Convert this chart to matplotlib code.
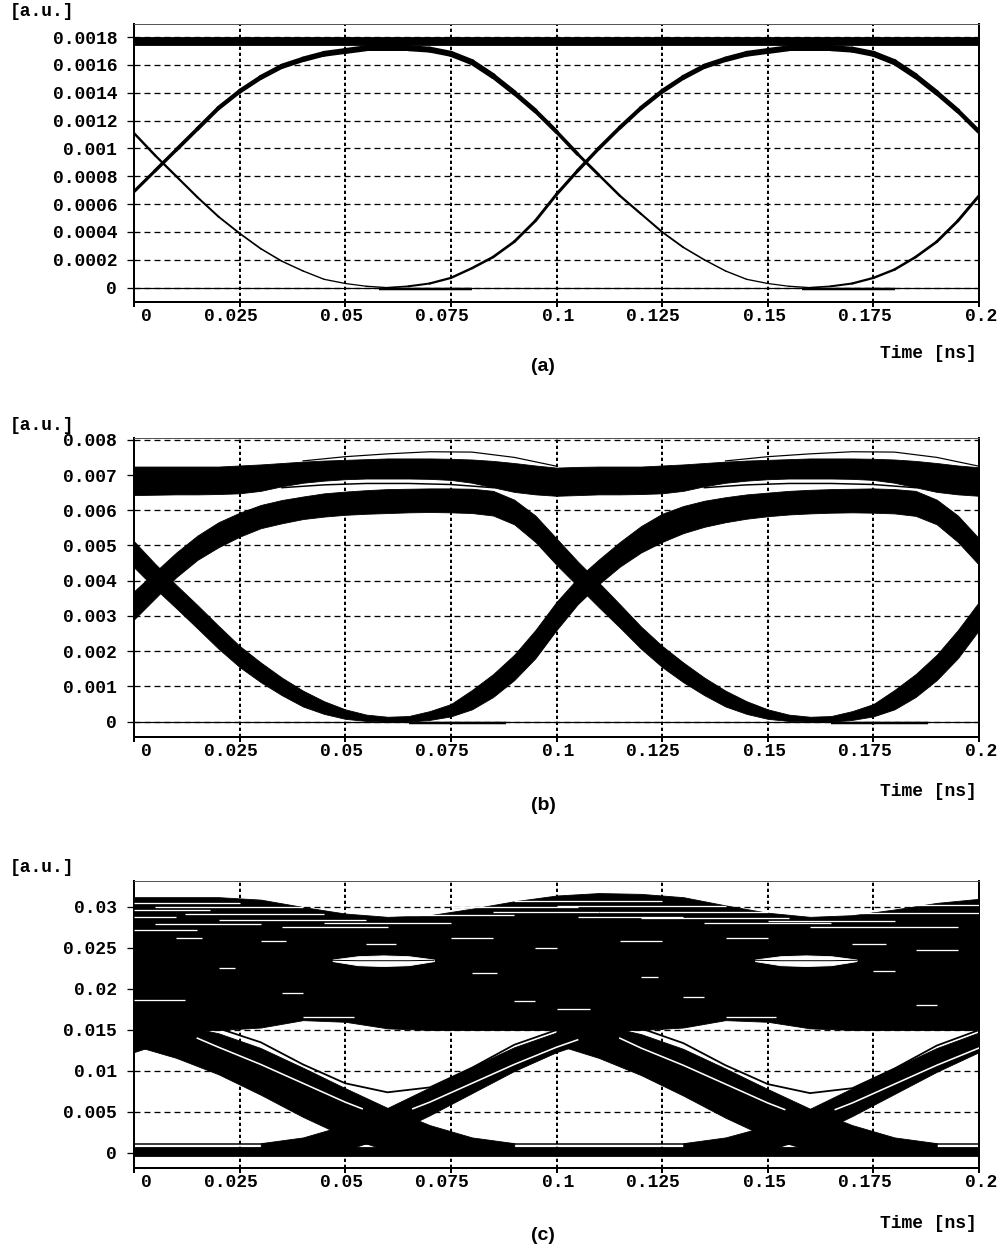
import numpy as np
import matplotlib
matplotlib.use("Agg")
import matplotlib.pyplot as plt
from matplotlib.collections import LineCollection

plt.rcParams['lines.scale_dashes'] = False

# ---------------------------------------------------------------- data
# sample instants (ns), 5 ps apart
t = [0.000, 0.005, 0.010, 0.015, 0.020, 0.025, 0.030, 0.035, 0.040, 0.045,
     0.050, 0.055, 0.060, 0.065, 0.070, 0.075, 0.080, 0.085, 0.090, 0.095,
     0.100, 0.105, 0.110, 0.115, 0.120, 0.125, 0.130, 0.135, 0.140, 0.145,
     0.150, 0.155, 0.160, 0.165, 0.170, 0.175, 0.180, 0.185, 0.190, 0.195, 0.200]
# 10 ps instants for panel (c)
tc = [0.00, 0.01, 0.02, 0.03, 0.04, 0.05, 0.06, 0.07, 0.08, 0.09, 0.10,
      0.11, 0.12, 0.13, 0.14, 0.15, 0.16, 0.17, 0.18, 0.19, 0.20]

x_ticks = [0, 0.025, 0.05, 0.075, 0.1, 0.125, 0.15, 0.175, 0.2]
x_labels = ['0', '0.025', '0.05', '0.075', '0.1', '0.125', '0.15', '0.175', '0.2']

# (a) two transition traces
a_trace1 = [0.00069, 0.00084, 0.00099, 0.00114, 0.00129, 0.00141, 0.00151, 0.00159, 0.00164, 0.00168,
            0.00170, 0.00172, 0.00172, 0.00172, 0.00171, 0.00168, 0.00162, 0.00152, 0.00140, 0.00127,
            0.00112, 0.00096, 0.00081, 0.00066, 0.00053, 0.00040, 0.00029, 0.00020, 0.00012, 0.00006,
            0.00003, 0.00001, 0.00000, 0.00001, 0.00003, 0.00007, 0.00013, 0.00022, 0.00033, 0.00048, 0.00066]
a_trace2 = [0.00111, 0.00095, 0.00080, 0.00065, 0.00051, 0.00039, 0.00028, 0.00019, 0.00012, 0.00006,
            0.00003, 0.00001, 0.00000, 0.00001, 0.00003, 0.00007, 0.00014, 0.00022, 0.00033, 0.00048,
            0.00067, 0.00084, 0.00100, 0.00115, 0.00129, 0.00141, 0.00151, 0.00159, 0.00164, 0.00168,
            0.00170, 0.00172, 0.00172, 0.00172, 0.00171, 0.00168, 0.00162, 0.00152, 0.00140, 0.00127, 0.00112]
a_one_level = (0.00174, 0.00180)
a_zero_level = 0.0
a_floor_spans = [(0.058, 0.080), (0.158, 0.180)]
a_yticks = [0, 0.0002, 0.0004, 0.0006, 0.0008, 0.001, 0.0012, 0.0014, 0.0016, 0.0018]
a_ylabels = ['0', '0.0002', '0.0004', '0.0006', '0.0008', '0.001', '0.0012', '0.0014', '0.0016', '0.0018']

# (b) transition bands, lower / upper envelope
b_A_lo = [0.00290, 0.00350, 0.00410, 0.00459, 0.00495, 0.00525, 0.00549, 0.00563, 0.00575, 0.00582,
          0.00587, 0.00590, 0.00592, 0.00594, 0.00595, 0.00594, 0.00592, 0.00585, 0.00560, 0.00510,
          0.00445, 0.00385, 0.00325, 0.00267, 0.00207, 0.00155, 0.00112, 0.00075, 0.00043, 0.00022,
          0.00008, 0.00002, 0.00000, 0.00000, 0.00005, 0.00015, 0.00035, 0.00070, 0.00118, 0.00180, 0.00260]
b_A_hi = [0.00370, 0.00425, 0.00480, 0.00528, 0.00566, 0.00593, 0.00615, 0.00629, 0.00639, 0.00648,
          0.00653, 0.00657, 0.00660, 0.00661, 0.00662, 0.00662, 0.00661, 0.00655, 0.00630, 0.00585,
          0.00520, 0.00455, 0.00395, 0.00333, 0.00270, 0.00215, 0.00168, 0.00125, 0.00088, 0.00058,
          0.00035, 0.00020, 0.00014, 0.00016, 0.00030, 0.00050, 0.00090, 0.00135, 0.00190, 0.00260, 0.00340]
b_B_lo = [0.00438, 0.00378, 0.00322, 0.00265, 0.00207, 0.00155, 0.00112, 0.00075, 0.00043, 0.00022,
          0.00008, 0.00002, 0.00000, 0.00000, 0.00005, 0.00015, 0.00035, 0.00070, 0.00118, 0.00180,
          0.00260, 0.00333, 0.00390, 0.00440, 0.00480, 0.00510, 0.00535, 0.00553, 0.00566, 0.00576,
          0.00583, 0.00588, 0.00591, 0.00593, 0.00594, 0.00593, 0.00591, 0.00584, 0.00560, 0.00510, 0.00445]
b_B_hi = [0.00512, 0.00448, 0.00388, 0.00331, 0.00272, 0.00215, 0.00168, 0.00125, 0.00088, 0.00058,
          0.00035, 0.00020, 0.00014, 0.00016, 0.00030, 0.00050, 0.00090, 0.00135, 0.00190, 0.00260,
          0.00340, 0.00407, 0.00460, 0.00510, 0.00555, 0.00590, 0.00612, 0.00627, 0.00637, 0.00645,
          0.00650, 0.00655, 0.00658, 0.00660, 0.00661, 0.00662, 0.00660, 0.00655, 0.00630, 0.00585, 0.00520]
b_T_lo = [0.00643, 0.00644, 0.00645, 0.00645, 0.00646, 0.00648, 0.00655, 0.00668, 0.00678, 0.00684,
          0.00688, 0.00690, 0.00690, 0.00690, 0.00689, 0.00686, 0.00678, 0.00665, 0.00652, 0.00645,
          0.00641, 0.00643, 0.00645, 0.00645, 0.00646, 0.00648, 0.00655, 0.00668, 0.00678, 0.00684,
          0.00688, 0.00690, 0.00690, 0.00690, 0.00689, 0.00686, 0.00678, 0.00665, 0.00652, 0.00645, 0.00641]
b_T_hi = [0.00724, 0.00724, 0.00724, 0.00724, 0.00724, 0.00727, 0.00730, 0.00734, 0.00738, 0.00741,
          0.00743, 0.00745, 0.00747, 0.00747, 0.00747, 0.00746, 0.00744, 0.00740, 0.00734, 0.00727,
          0.00721, 0.00723, 0.00724, 0.00724, 0.00724, 0.00727, 0.00730, 0.00734, 0.00738, 0.00741,
          0.00743, 0.00745, 0.00747, 0.00747, 0.00747, 0.00746, 0.00744, 0.00740, 0.00734, 0.00727, 0.00722]
b_mid_t = [0.035, 0.045, 0.055, 0.065, 0.075, 0.085]
b_mid_v = [0.00664, 0.00672, 0.00676, 0.00676, 0.00673, 0.00664]
b_mid_t2 = [0.135, 0.145, 0.155, 0.165, 0.175, 0.185]
b_mid_v2 = [0.00664, 0.00672, 0.00676, 0.00676, 0.00673, 0.00664]
b_over_t = [0.040, 0.050, 0.060, 0.070, 0.080, 0.090, 0.100]
b_over_v = [0.00740, 0.00752, 0.00760, 0.00766, 0.00765, 0.00750, 0.00725]
b_over_t2 = [0.140, 0.150, 0.160, 0.170, 0.180, 0.190, 0.200]
b_over_v2 = [0.00740, 0.00752, 0.00760, 0.00766, 0.00765, 0.00750, 0.00725]
b_floor_spans = [(0.065, 0.088), (0.165, 0.188)]
b_yticks = [0, 0.001, 0.002, 0.003, 0.004, 0.005, 0.006, 0.007, 0.008]
b_ylabels = ['0', '0.001', '0.002', '0.003', '0.004', '0.005', '0.006', '0.007', '0.008']

# (c) upper mass of "one" traces
c_top_lo = [0.0150, 0.0150, 0.0150, 0.0153, 0.0162, 0.0160, 0.0152, 0.0150, 0.0150, 0.0150, 0.0150,
            0.0150, 0.0150, 0.0153, 0.0162, 0.0160, 0.0152, 0.0150, 0.0150, 0.0150, 0.0150]
c_top_hi = [0.0312, 0.0312, 0.0312, 0.0309, 0.0300, 0.0292, 0.0288, 0.0290, 0.0298, 0.0307, 0.0314,
            0.0317, 0.0316, 0.0312, 0.0302, 0.0293, 0.0288, 0.0290, 0.0297, 0.0305, 0.0310]
# (c) falling bundles
c_f1_t = [0.00, 0.01, 0.02, 0.03, 0.04, 0.05, 0.06, 0.07, 0.08, 0.09]
c_f1_lo = [0.0131, 0.0116, 0.0096, 0.0071, 0.0044, 0.0020, 0.0003, 0.0000, 0.0000, 0.0000]
c_f1_hi = [0.0158, 0.0157, 0.0146, 0.0128, 0.0104, 0.0079, 0.0055, 0.0034, 0.0019, 0.0012]
c_f2_t = [0.10, 0.11, 0.12, 0.13, 0.14, 0.15, 0.16, 0.17, 0.18, 0.19]
c_f2_lo = [0.0132, 0.0116, 0.0095, 0.0070, 0.0043, 0.0019, 0.0003, 0.0000, 0.0000, 0.0000]
c_f2_hi = [0.0158, 0.0157, 0.0145, 0.0127, 0.0103, 0.0078, 0.0054, 0.0034, 0.0019, 0.0012]
# (c) rising bundles
c_r0_t = [0.00, 0.01]
c_r0_lo = [0.0123, 0.0140]
c_r0_hi = [0.0147, 0.0158]
c_r1_t = [0.03, 0.04, 0.05, 0.06, 0.07, 0.08, 0.09, 0.10, 0.11]
c_r1_lo = [0.0000, 0.0000, 0.0003, 0.0021, 0.0046, 0.0073, 0.0100, 0.0123, 0.0140]
c_r1_hi = [0.0012, 0.0019, 0.0034, 0.0055, 0.0080, 0.0105, 0.0129, 0.0147, 0.0158]
c_r2_t = [0.13, 0.14, 0.15, 0.16, 0.17, 0.18, 0.19, 0.20]
c_r2_lo = [0.0000, 0.0000, 0.0003, 0.0020, 0.0045, 0.0072, 0.0099, 0.0123]
c_r2_hi = [0.0012, 0.0019, 0.0033, 0.0054, 0.0079, 0.0104, 0.0128, 0.0147]
# (c) narrow openings running inside the bundles
c_sf1_t = [0.015, 0.02, 0.03, 0.04, 0.05, 0.054]
c_sf1_v = [0.0140, 0.0129, 0.0108, 0.0085, 0.0062, 0.0054]
c_sr1_t = [0.066, 0.07, 0.08, 0.09, 0.10, 0.105]
c_sr1_v = [0.0054, 0.0062, 0.0085, 0.0108, 0.0129, 0.0138]
c_sf2_t = [0.115, 0.12, 0.13, 0.14, 0.15, 0.154]
c_sf2_v = [0.0140, 0.0128, 0.0107, 0.0084, 0.0061, 0.0053]
c_sr2_t = [0.166, 0.17, 0.18, 0.19, 0.20]
c_sr2_v = [0.0053, 0.0061, 0.0084, 0.0107, 0.0128]
# (c) lowest "one" traces bounding the eye opening
c_u1_t = [0.02, 0.03, 0.04, 0.05, 0.06, 0.07, 0.08, 0.09, 0.10]
c_u2_t = [0.12, 0.13, 0.14, 0.15, 0.16, 0.17, 0.18, 0.19, 0.20]
c_u_a = [0.0152, 0.0135, 0.0108, 0.0085, 0.0074, 0.0080, 0.0104, 0.0132, 0.0150]
c_u_b = [0.0152, 0.0134, 0.0107, 0.0084, 0.0073, 0.0079, 0.0103, 0.0131, 0.0150]
# (c) lens-shaped gaps inside the upper mass
c_lens1_t = [0.047, 0.053, 0.059, 0.065, 0.071]
c_lens2_t = [0.147, 0.153, 0.159, 0.165, 0.171]
c_lens_lo = [0.0234, 0.0229, 0.0228, 0.0229, 0.0234]
c_lens_hi = [0.0236, 0.0240, 0.0241, 0.0240, 0.0236]
# (c) gaps between individual traces: start, end, level
c_gaps = [(0.000, 0.025, 0.0305), (0.005, 0.040, 0.0300), (0.000, 0.018, 0.0296), (0.012, 0.045, 0.0292),
          (0.000, 0.010, 0.0288), (0.020, 0.055, 0.0284), (0.005, 0.030, 0.0279), (0.035, 0.060, 0.0276),
          (0.000, 0.015, 0.0272), (0.045, 0.075, 0.0280), (0.060, 0.090, 0.0290), (0.075, 0.105, 0.0300),
          (0.090, 0.125, 0.0307), (0.100, 0.140, 0.0301), (0.085, 0.110, 0.0294), (0.110, 0.150, 0.0294),
          (0.120, 0.155, 0.0286), (0.135, 0.165, 0.0280), (0.150, 0.180, 0.0283), (0.165, 0.200, 0.0293),
          (0.180, 0.200, 0.0302), (0.105, 0.130, 0.0288), (0.160, 0.195, 0.0276),
          (0.010, 0.016, 0.0262), (0.030, 0.036, 0.0258), (0.055, 0.062, 0.0255), (0.075, 0.085, 0.0262),
          (0.095, 0.100, 0.0250), (0.115, 0.125, 0.0258), (0.140, 0.150, 0.0262), (0.170, 0.178, 0.0255),
          (0.185, 0.195, 0.0248), (0.020, 0.024, 0.0225), (0.080, 0.086, 0.0220), (0.120, 0.124, 0.0215),
          (0.175, 0.180, 0.0222), (0.035, 0.040, 0.0195), (0.090, 0.095, 0.0185), (0.130, 0.135, 0.0190),
          (0.185, 0.190, 0.0180), (0.040, 0.052, 0.0166), (0.140, 0.152, 0.0166), (0.000, 0.012, 0.0186),
          (0.100, 0.108, 0.0176)]
c_zero_band = (-0.0004, 0.0007)
c_zero_line = 0.0011
c_yticks = [0, 0.005, 0.01, 0.015, 0.02, 0.025, 0.03]
c_ylabels = ['0', '0.005', '0.01', '0.015', '0.02', '0.025', '0.03']

# ---------------------------------------------------------------- layout
W, H = 1001, 1253
PX = 0.72                      # points per pixel at 100 dpi
MONO = 'Liberation Mono'
FS = 13

fig = plt.figure(figsize=(W / 100, H / 100), dpi=100)
fig.patch.set_facecolor('white')


def make_axes(top, bottom, ylim, yticks, ylabels):
    left, right = 134, 979
    ax = fig.add_axes([left / W, 1 - bottom / H, (right - left) / W, (bottom - top) / H])
    ax.set_xlim(0, 0.2)
    ax.set_ylim(*ylim)
    ax.set_yticks(yticks)
    ax.set_yticklabels(ylabels)
    ax.set_xticks(x_ticks)
    ax.set_xticklabels([])
    ax.tick_params(axis='y', direction='out', length=7 * PX, width=1.3 * PX, pad=10 * PX,
                   labelsize=FS, colors='black')
    ax.tick_params(axis='x', direction='out', length=5 * PX, width=2 * PX, pad=0)
    for lbl in ax.get_yticklabels():
        lbl.set_fontfamily(MONO)
        lbl.set_fontweight('bold')
    for x, s in zip(x_ticks, x_labels):
        ax.annotate(s, xy=(x, 0), xycoords=('data', 'axes fraction'),
                    xytext=(18, -6), textcoords='offset pixels', ha='right', va='top',
                    fontsize=FS, fontfamily=MONO, fontweight='bold', annotation_clip=False)
    # dashed grid
    for y in yticks:
        ax.axhline(y, color='black', lw=1.3 * PX, ls=(0, (6 * PX, 4 * PX)), zorder=0.5)
    for x in x_ticks[1:-1]:
        ax.axvline(x, color='black', lw=2.0 * PX, ls=(0, (3.3 * PX, 2.7 * PX)), zorder=0.5)
    for side in ('left', 'bottom', 'right'):
        ax.spines[side].set_linewidth(2 * PX)
        ax.spines[side].set_color('black')
    ax.spines['top'].set_linewidth(1 * PX)
    ax.spines['top'].set_color('#555555')
    return ax


def vary_line(ax, xs, ys, widths_px):
    pts = np.column_stack([xs, ys])
    segs = np.stack([pts[:-1], pts[1:]], axis=1)
    w = np.asarray(widths_px, dtype=float)
    lw = 0.5 * (w[:-1] + w[1:]) * PX
    lc = LineCollection(segs, colors='black', linewidths=lw, capstyle='round',
                        joinstyle='round', zorder=3)
    ax.add_collection(lc)


def band(ax, xs, lo, hi, color='black', z=3):
    ax.fill_between(xs, lo, hi, color=color, lw=0.6, zorder=z)


def side_texts(y_unit, y_time):
    fig.text(10 / W, 1 - y_unit / H, '[a.u.]', ha='left', va='center',
             fontsize=FS, fontfamily=MONO, fontweight='bold')
    fig.text(977 / W, 1 - y_time / H, 'Time [ns]', ha='right', va='center',
             fontsize=FS, fontfamily=MONO, fontweight='bold')


def panel_tag(y, s):
    fig.text(543 / W, 1 - y / H, s, ha='center', va='center', fontsize=14,
             fontfamily='Liberation Sans', fontweight='bold')


# ---------------------------------------------------------------- (a)
ax_a = make_axes(24, 302, (-0.000103, 0.001894), a_yticks, a_ylabels)
band(ax_a, [t[0], t[-1]], a_one_level[0], a_one_level[1])
ax_a.plot([t[0], t[-1]], [a_zero_level, a_zero_level], color='black', lw=1.2 * PX, zorder=3)
for s0, s1 in a_floor_spans:
    ax_a.plot([s0, s1], [a_zero_level - 0.000008] * 2, color='black',
              lw=2.5 * PX, zorder=3, solid_capstyle='butt')
# stroke thickness (px) along each trace
a_w1 = np.interp(t, [0.0, 0.05, 0.08, 0.10, 0.11, 0.135, 0.155, 0.17, 0.2],
                 [3, 6, 6, 4, 2.6, 1.5, 1.2, 2.2, 3])
a_w2 = np.interp(t, [0.0, 0.035, 0.055, 0.07, 0.1, 0.15, 0.18, 0.2],
                 [2.5, 1.5, 1.2, 2.2, 3, 6, 6, 4.2])
vary_line(ax_a, t, a_trace1, a_w1)
vary_line(ax_a, t, a_trace2, a_w2)
side_texts(12, 353)
panel_tag(367, '(a)')

# ---------------------------------------------------------------- (b)
ax_b = make_axes(438, 737, (-0.000435, 0.00805), b_yticks, b_ylabels)
for lo, hi in ((b_T_lo, b_T_hi), (b_A_lo, b_A_hi), (b_B_lo, b_B_hi)):
    band(ax_b, t, lo, hi)
for xs, ys in ((b_mid_t, b_mid_v), (b_mid_t2, b_mid_v2)):
    ax_b.plot(xs, ys, color='black', lw=1.5 * PX, zorder=3)
for xs, ys in ((b_over_t, b_over_v), (b_over_t2, b_over_v2)):
    ax_b.plot(xs, ys, color='black', lw=1.2 * PX, zorder=3)
ax_b.plot([t[0], t[-1]], [0, 0], color='black', lw=1.2 * PX, zorder=3)
for s0, s1 in b_floor_spans:
    ax_b.plot([s0, s1], [-0.00004, -0.00004], color='black', lw=2.5 * PX, zorder=3,
              solid_capstyle='butt')
side_texts(425, 792)
panel_tag(806, '(b)')

# ---------------------------------------------------------------- (c)
ax_c = make_axes(881, 1168, (-0.00183, 0.03317), c_yticks, c_ylabels)
band(ax_c, tc, c_top_lo, c_top_hi)
for xs, lo, hi in ((c_f1_t, c_f1_lo, c_f1_hi), (c_f2_t, c_f2_lo, c_f2_hi),
                   (c_r0_t, c_r0_lo, c_r0_hi), (c_r1_t, c_r1_lo, c_r1_hi),
                   (c_r2_t, c_r2_lo, c_r2_hi)):
    band(ax_c, xs, lo, hi)
for xs, ys in ((c_sf1_t, c_sf1_v), (c_sr1_t, c_sr1_v), (c_sf2_t, c_sf2_v), (c_sr2_t, c_sr2_v)):
    ax_c.plot(xs, ys, color='white', lw=1.6 * PX, zorder=4)
for xs, ys in ((c_u1_t, c_u_a), (c_u2_t, c_u_b)):
    ax_c.plot(xs, ys, color='black', lw=1.8 * PX, zorder=3)
for xs in (c_lens1_t, c_lens2_t):
    band(ax_c, xs, c_lens_lo, c_lens_hi, color='white', z=4)
    ax_c.plot(xs, np.add(c_lens_lo, c_lens_hi) / 2, color='black', lw=1 * PX, zorder=4.5)
for s0, s1, v in c_gaps:
    ax_c.plot([s0, s1], [v, v], color='white', lw=1.3 * PX, zorder=4, solid_capstyle='butt')
band(ax_c, [tc[0], tc[-1]], c_zero_band[0], c_zero_band[1])
ax_c.plot([tc[0], tc[-1]], [c_zero_line, c_zero_line], color='black', lw=1.5 * PX, zorder=3)
side_texts(867, 1223)
panel_tag(1236, '(c)')

fig.savefig('out.png', dpi=100, facecolor='white')
